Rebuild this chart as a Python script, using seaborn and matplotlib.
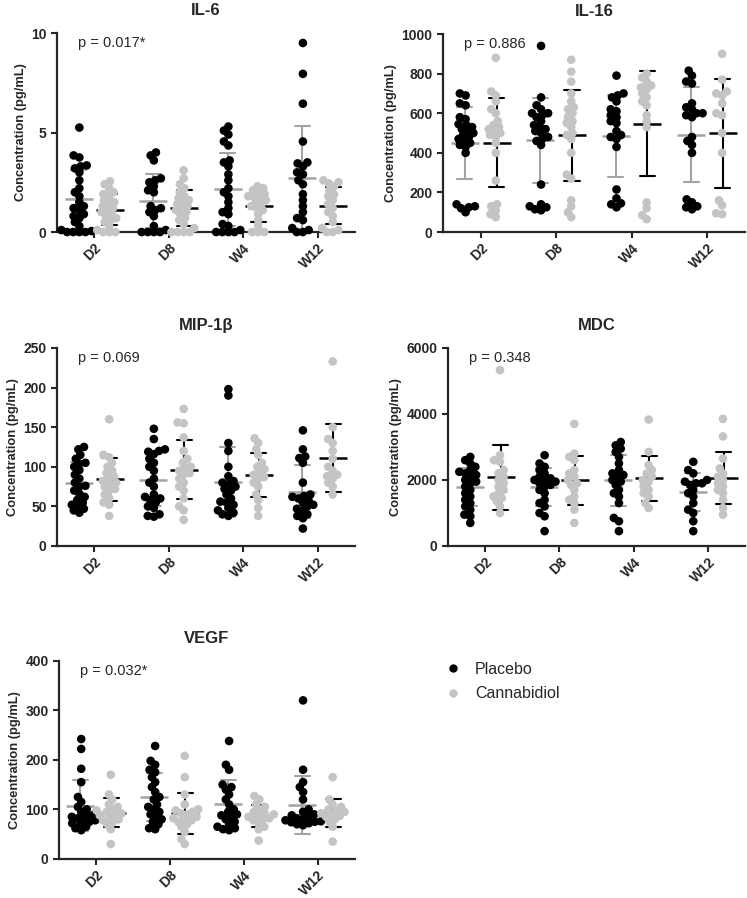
import numpy as np
import pandas as pd
import seaborn as sns
import matplotlib.pyplot as plt
from matplotlib.lines import Line2D

times = ["D2", "D8", "W4", "W12"]
groups = ["Placebo", "Cannabidiol"]

# values, one list per time point (D2, D8, W4, W12)
il6_placebo = [
    [5.25, 3.85, 3.75, 3.35, 3.3, 3.2, 3.0, 2.6, 2.2, 2.0, 1.8, 1.5, 1.3, 1.2, 1.1, 0.9, 0.8, 0.7, 0.5, 0.3, 0.1, 0.05, 0.0, 0.0, 0.0, 0.0],
    [4.0, 3.85, 3.6, 2.7, 2.6, 2.5, 2.3, 2.1, 2.0, 1.3, 1.2, 1.1, 1.0, 0.8, 0.3, 0.1, 0.0, 0.0, 0.0, 0.0],
    [5.3, 5.1, 4.9, 4.55, 4.35, 3.6, 3.5, 3.3, 2.9, 2.6, 2.2, 2.0, 1.8, 1.5, 1.2, 1.0, 0.9, 0.4, 0.3, 0.1, 0.0, 0.0, 0.0, 0.0],
    [9.5, 7.95, 6.45, 4.55, 3.5, 3.45, 3.3, 3.0, 2.9, 2.6, 2.4, 1.9, 1.6, 1.3, 1.0, 0.7, 0.6, 0.2, 0.1, 0.0, 0.0],
]
il6_cbd = [
    [2.55, 2.4, 2.2, 2.0, 1.9, 1.8, 1.6, 1.5, 1.4, 1.3, 1.2, 1.1, 1.0, 0.9, 0.8, 0.7, 0.6, 0.5, 0.3, 0.1, 0.0, 0.0, 0.0],
    [3.1, 2.7, 2.4, 2.2, 2.0, 1.8, 1.7, 1.6, 1.5, 1.4, 1.3, 1.2, 1.1, 1.0, 0.9, 0.7, 0.6, 0.4, 0.2, 0.0, 0.0, 0.0, 0.0],
    [2.3, 2.2, 2.1, 2.0, 1.9, 1.8, 1.8, 1.7, 1.6, 1.5, 1.4, 1.3, 1.2, 1.1, 0.9, 0.6, 0.3, 0.0, 0.0, 0.0],
    [2.6, 2.5, 2.45, 2.3, 2.1, 1.9, 1.8, 1.6, 1.4, 1.2, 1.0, 0.8, 0.5, 0.2, 0.1, 0.0, 0.0],
]

il16_placebo = [
    [700, 690, 650, 640, 580, 570, 545, 540, 530, 520, 510, 500, 490, 480, 470, 460, 450, 440, 430, 400, 140, 130, 125, 120, 100],
    [940, 680, 640, 620, 600, 600, 590, 580, 560, 540, 530, 520, 510, 500, 480, 470, 460, 440, 240, 140, 130, 125, 115, 110],
    [790, 700, 690, 680, 660, 620, 610, 590, 580, 560, 550, 510, 490, 480, 470, 430, 215, 170, 145, 140, 125],
    [815, 790, 760, 750, 650, 630, 620, 600, 600, 590, 580, 480, 460, 440, 400, 165, 150, 130, 125, 115],
]
il16_cbd = [
    [880, 710, 690, 660, 620, 600, 560, 540, 530, 520, 510, 500, 490, 480, 450, 400, 260, 140, 130, 110, 90, 75],
    [870, 810, 760, 700, 660, 630, 620, 600, 580, 560, 550, 530, 500, 490, 470, 400, 290, 270, 160, 130, 100, 75],
    [800, 780, 760, 740, 730, 720, 700, 680, 660, 640, 590, 560, 530, 150, 120, 85, 65],
    [900, 770, 710, 700, 690, 650, 600, 590, 500, 400, 160, 135, 95, 90],
]

mip_placebo = [
    [125, 122, 115, 110, 105, 104, 100, 96, 90, 85, 80, 76, 75, 70, 66, 62, 58, 55, 52, 50, 47, 45, 42],
    [148, 135, 122, 120, 119, 116, 110, 105, 100, 95, 85, 80, 75, 65, 62, 60, 58, 55, 50, 48, 40, 38, 37],
    [198, 190, 130, 120, 100, 88, 82, 80, 78, 75, 72, 70, 65, 60, 56, 55, 52, 48, 45, 42, 40, 38],
    [146, 122, 113, 111, 105, 80, 65, 63, 62, 60, 58, 55, 52, 50, 47, 45, 40, 38, 35, 22],
]
mip_cbd = [
    [160, 115, 112, 105, 100, 95, 92, 88, 85, 82, 80, 78, 75, 72, 70, 65, 60, 55, 52, 38],
    [173, 156, 155, 137, 120, 110, 105, 100, 98, 95, 92, 90, 85, 80, 75, 70, 60, 50, 45, 33],
    [136, 130, 122, 115, 105, 100, 97, 93, 90, 87, 85, 80, 75, 65, 58, 48, 38],
    [233, 150, 135, 130, 120, 110, 100, 95, 90, 88, 85, 80, 75, 65],
]

mdc_placebo = [
    [2700, 2600, 2500, 2400, 2300, 2250, 2200, 2150, 2100, 2000, 1950, 1900, 1800, 1700, 1600, 1500, 1400, 1300, 1200, 1100, 950, 900, 700],
    [2750, 2500, 2400, 2300, 2200, 2100, 2050, 2000, 2000, 1950, 1900, 1850, 1800, 1700, 1600, 1400, 1300, 1200, 1000, 900, 450],
    [3150, 3050, 2950, 2850, 2700, 2500, 2300, 2200, 2150, 2100, 2000, 1950, 1850, 1700, 1600, 1500, 1300, 850, 750, 450],
    [2550, 2300, 2200, 2000, 1950, 1900, 1900, 1850, 1700, 1600, 1500, 1300, 1100, 1000, 750, 450],
]
mdc_cbd = [
    [5330, 2750, 2600, 2550, 2300, 2200, 2100, 2000, 1900, 1800, 1700, 1600, 1500, 1450, 1350, 1200, 1000],
    [3700, 2800, 2700, 2600, 2300, 2200, 2100, 2000, 1900, 1850, 1700, 1500, 1400, 1300, 1100, 700],
    [3830, 2850, 2450, 2300, 2200, 2100, 2000, 1950, 1800, 1700, 1600, 1500, 1300, 1150],
    [3850, 3320, 2650, 2350, 2200, 2100, 2000, 1900, 1800, 1700, 1600, 1400, 1150, 950],
]

vegf_placebo = [
    [242, 222, 182, 155, 125, 115, 105, 100, 95, 90, 88, 85, 82, 80, 78, 75, 72, 70, 65, 62, 58],
    [228, 198, 190, 180, 175, 165, 155, 145, 135, 125, 120, 110, 105, 100, 95, 90, 85, 80, 75, 70, 62, 60],
    [238, 190, 180, 150, 145, 140, 130, 120, 110, 100, 95, 90, 88, 85, 80, 75, 70, 65, 62, 60, 58],
    [320, 180, 155, 145, 135, 120, 100, 95, 90, 88, 85, 82, 80, 78, 76, 75, 74, 72, 70, 68],
]
vegf_cbd = [
    [170, 130, 120, 110, 105, 100, 98, 95, 92, 90, 88, 85, 80, 78, 75, 70, 60, 30],
    [208, 165, 130, 110, 100, 98, 95, 92, 90, 85, 82, 80, 78, 75, 70, 65, 55, 40, 30],
    [127, 120, 110, 105, 100, 95, 92, 90, 88, 85, 82, 80, 78, 72, 65, 60, 37],
    [165, 120, 110, 105, 100, 97, 95, 92, 90, 87, 85, 80, 75, 65, 35],
]

titles = ["IL-6", "IL-16", "MIP-1β", "MDC", "VEGF"]
p_labels = ["p = 0.017*", "p = 0.886", "p = 0.069", "p = 0.348", "p = 0.032*"]


def long_table(placebo, cbd):
    rows = []
    for grp, series in zip(groups, [placebo, cbd]):
        for t, vals in zip(times, series):
            for v in vals:
                rows.append((t, grp, v))
    return pd.DataFrame(rows, columns=["time", "group", "value"])


sns.set_style("ticks")
plt.rcParams["font.family"] = ["Liberation Sans", "DejaVu Sans"]

dot_colors = {"Placebo": "#000000", "Cannabidiol": "#c4c4c4"}
bar_colors = {"Placebo": "#a3a3a3", "Cannabidiol": "#000000"}

fig = plt.figure(figsize=(7.47, 8.98), dpi=100)

panels = [
    (il6_placebo, il6_cbd, 10, [0, 5, 10], [0.0763, 0.7416, 0.399, 0.2216]),
    (il16_placebo, il16_cbd, 1000, [0, 200, 400, 600, 800, 1000], [0.593, 0.7416, 0.404, 0.2205]),
    (mip_placebo, mip_cbd, 250, [0, 50, 100, 150, 200, 250], [0.0763, 0.392, 0.399, 0.2205]),
    (mdc_placebo, mdc_cbd, 6000, [0, 2000, 4000, 6000], [0.5997, 0.392, 0.398, 0.2205]),
    (vegf_placebo, vegf_cbd, 400, [0, 100, 200, 300, 400], [0.079, 0.0435, 0.396, 0.2207]),
]

axes = []
for i, (plac, cbd, ymax, yticks, rect) in enumerate(panels):
    ax = fig.add_axes(rect)
    axes.append(ax)
    df = long_table(plac, cbd)

    # swarm laid out with small dots, enlarged afterwards so they overlap a bit
    sns.swarmplot(data=df, x="time", y="value", hue="group", order=times,
                  hue_order=groups, dodge=True, palette=dot_colors,
                  size=4.2, linewidth=0, legend=False, warn_thresh=1, ax=ax)
    for c in ax.collections:
        c.set_clip_on(False)

    # mean +/- SD
    sns.pointplot(data=df, x="time", y="value", hue="group", order=times,
                  hue_order=groups, dodge=0.42, errorbar="sd", palette=bar_colors,
                  markers="_", markersize=20, markeredgewidth=1.8, linestyle="none",
                  capsize=0.2, err_kws={"linewidth": 1.5}, legend=False, ax=ax)
    for ln in ax.lines:
        ln.set_clip_on(False)

    ax.set_xlim(-0.5, 3.5)
    ax.set_ylim(0, ymax)
    ax.set_yticks(yticks)
    ax.set_xlabel("")
    ax.set_ylabel("Concentration (pg/mL)", fontsize=9.3, fontweight="bold", labelpad=3)
    ax.set_title(titles[i], fontsize=12, fontweight="bold", pad=13)
    ax.text(0.07, 0.95, p_labels[i], transform=ax.transAxes, fontsize=10.5, va="center")

    ax.tick_params(axis="both", width=1.5, length=4, labelsize=10)
    ax.tick_params(axis="x", pad=2.5)
    for lab in ax.get_yticklabels():
        lab.set_fontweight("bold")
    ax.set_xticks(range(len(times)))
    ax.set_xticklabels(times, rotation=45, ha="right", rotation_mode="anchor",
                       fontweight="bold")
    sns.despine(ax=ax)
    for side in ["left", "bottom"]:
        ax.spines[side].set_linewidth(1.6)

# fix the swarm positions, then grow the dots
fig.canvas.draw()
for ax in axes:
    for c in ax.collections:
        if "draw" in c.__dict__:
            del c.draw
        c.set_sizes([6.2 ** 2])

handles = [Line2D([], [], marker="o", linestyle="none", markersize=6,
                  markerfacecolor=dot_colors[g], markeredgewidth=0) for g in groups]
fig.legend(handles, groups, loc="upper left", bbox_to_anchor=(0.576, 0.279),
           bbox_transform=fig.transFigure, frameon=False, fontsize=11.5,
           handlelength=1.0, handletextpad=0.9, labelspacing=0.6)

fig.savefig("out.png", dpi=100)
